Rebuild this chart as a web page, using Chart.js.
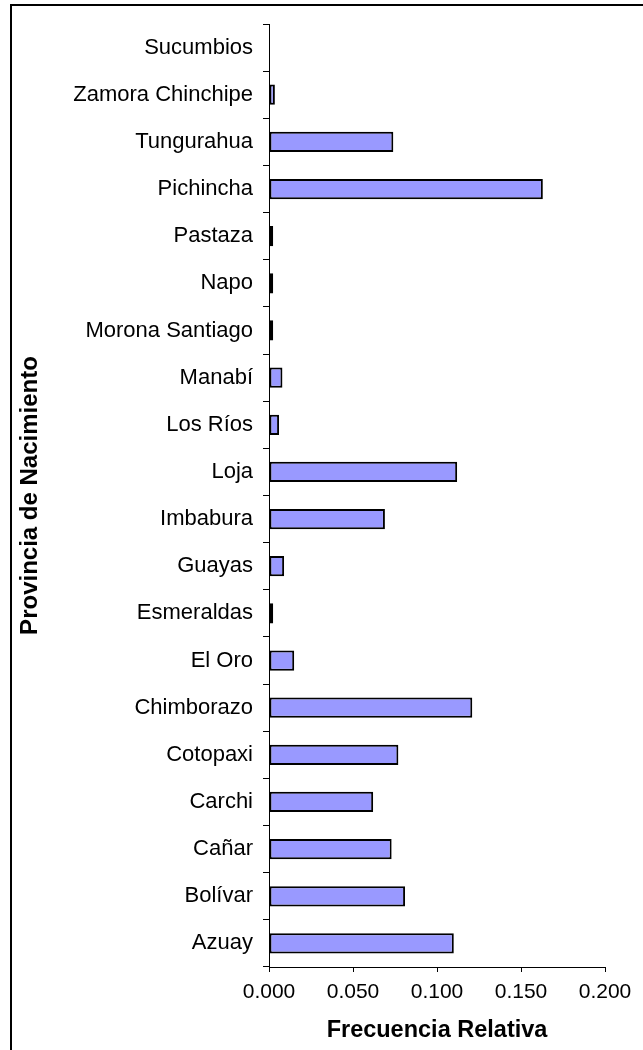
<!DOCTYPE html>
<html lang="es">
<head>
<meta charset="utf-8">
<title>Provincia de Nacimiento</title>
<script src="https://cdn.jsdelivr.net/npm/chart.js@4.4.1/dist/chart.umd.min.js"></script>
<style>
  html, body { margin: 0; padding: 0; background: #fff; }
  body { width: 643px; height: 1050px; position: relative; overflow: hidden; }
  #marco { position: absolute; left: 10px; top: 4px; width: 700px; height: 1100px; border: 2.5px solid #000; }
  #chart { position: absolute; left: 0; top: 0; }
</style>
</head>
<body>
<div id="marco"></div>
<canvas id="chart" width="643" height="1050"></canvas>
<script>
// Frecuencia relativa por provincia de nacimiento (de arriba hacia abajo).
const provincias = [
  "Sucumbios", "Zamora Chinchipe", "Tungurahua", "Pichincha", "Pastaza",
  "Napo", "Morona Santiago", "Manabí", "Los Ríos", "Loja",
  "Imbabura", "Guayas", "Esmeraldas", "El Oro", "Chimborazo",
  "Cotopaxi", "Carchi", "Cañar", "Bolívar", "Azuay"
];
const frecuencias = [
  0.000, 0.0035, 0.074, 0.163, 0.0025,
  0.0025, 0.0025, 0.008, 0.006, 0.112,
  0.069, 0.009, 0.0025, 0.015, 0.121,
  0.077, 0.062, 0.073, 0.081, 0.110
];
const xTicks = [0.000, 0.050, 0.100, 0.150, 0.200];

const $ = (id) => document.getElementById(id);
const FONT = "'Liberation Sans', Arial, sans-serif";

new Chart($("chart"), {
  type: "bar",
  data: {
    labels: provincias,
    datasets: [{
      data: frecuencias,
      backgroundColor: "#9999ff",
      borderColor: "#000",
      borderWidth: 2,
      borderSkipped: false,
      categoryPercentage: 1,
      barPercentage: 0.43
    }]
  },
  options: {
    indexAxis: "y",
    responsive: false,
    devicePixelRatio: 1,
    animation: false,
    layout: { padding: { left: 12, top: 24, right: 38, bottom: 0 } },
    plugins: { legend: { display: false }, tooltip: { enabled: false } },
    scales: {
      y: {
        grid: { offset: true, drawOnChartArea: false, color: "#000", tickLength: 6 },
        border: { color: "#000", width: 1 },
        ticks: { color: "#000", padding: 10, font: { family: FONT, size: 22 } },
        title: { display: true, text: "Provincia de Nacimiento", color: "#000", padding: { top: 4, bottom: 0 }, font: { family: FONT, size: 24, weight: "bold" } },
        afterFit: (s) => { s.width = 257; }
      },
      x: {
        min: 0,
        max: 0.2,
        afterBuildTicks: (s) => { s.ticks = xTicks.map(v => ({ value: v })); },
        grid: { drawOnChartArea: false, color: "#000", tickLength: 5 },
        border: { color: "#000", width: 1 },
        ticks: { color: "#000", padding: 8, maxRotation: 0, font: { family: FONT, size: 21 }, callback: (v) => Number(v).toFixed(3) },
        title: { display: true, text: "Frecuencia Relativa", color: "#000", padding: { top: 0, bottom: 5 }, font: { family: FONT, size: 23.5, weight: "bold" } },
        afterFit: (s) => { s.height = 83; }
      }
    }
  }
});
</script>
</body>
</html>
